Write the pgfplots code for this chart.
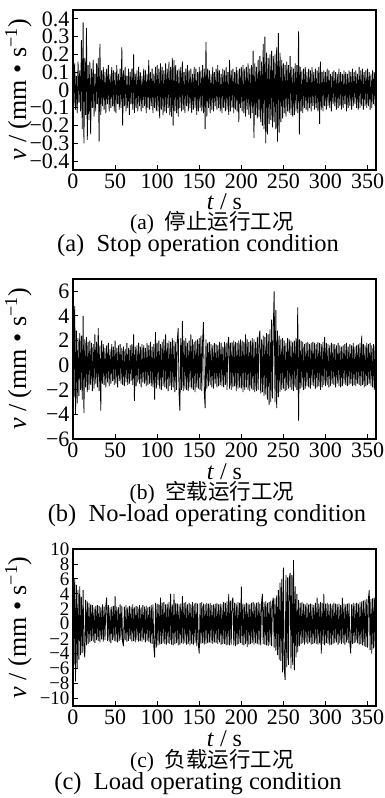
\documentclass[border=0pt]{standalone}
\usepackage{fontspec}
\setmainfont{Liberation Serif}
\newfontfamily\cjk{Noto Sans CJK SC}
\usepackage{pgfplots}
\pgfplotsset{compat=1.18}
\pgfplotsset{
  panel/.style={
    scale only axis, width=303pt, anchor=south west,
    xmin=0, xmax=360, xtick={0,50,...,350},
    tick align=inside, xtick pos=bottom, ytick pos=left,
    major tick length=5pt,
    axis line style={line width=1.2pt},
    every tick/.style={black, line width=0.9pt},
    /pgf/number format/assume math mode=true,
    tick label style={font=\fontsize{22}{22}\selectfont},
    xlabel style={font=\fontsize{24}{24}\selectfont, inner sep=0pt},
    ylabel style={font=\fontsize{26}{26}\selectfont, inner sep=0pt, at={(axis description cs:-0.18,0.5)}, anchor=center},
    xlabel={\textit{t} / s},
    ylabel={\textit{v} / (mm • s\textsuperscript{−1})},
    clip=true,
  },
  sig/.style={black, line width=0.8pt, mark=none, line join=bevel},
}
\begin{document}
\begin{tikzpicture}
\path[use as bounding box] (0pt,0pt) rectangle (384pt,798pt);
% (a)
\begin{axis}[panel, height=160pt, at={(73pt,628pt)},
  ymin=-0.45, ymax=0.45,
  ytick={-0.4,-0.3,-0.2,-0.1,0,0.1,0.2,0.3,0.4},
  yticklabels={−0.4,−0.3,−0.2,−0.1,0,0.1,0.2,0.3,0.4},
  xlabel style={at={(axis description cs:0.5,-0.2)}, anchor=center}]
\addplot[sig] table[x expr=\coordindex, y index=0, header=false, row sep=\\] {
0.12\\ -0.09\\ 0.15\\ -0.11\\ 0.08\\ -0.13\\ 0.16\\ -0.07\\ 0.11\\ -0.12\\
0.28\\ -0.22\\ 0.38\\ -0.30\\ 0.18\\ -0.14\\ 0.35\\ -0.28\\ 0.14\\ -0.17\\
0.16\\ -0.25\\ 0.12\\ -0.10\\ 0.17\\ -0.15\\ 0.09\\ -0.12\\ 0.15\\ -0.08\\
0.18\\ -0.29\\ 0.26\\ -0.14\\ 0.11\\ -0.09\\ 0.13\\ -0.11\\ 0.10\\ -0.13\\
0.12\\ -0.08\\ 0.14\\ -0.12\\ 0.09\\ -0.10\\ 0.13\\ -0.09\\ 0.11\\ -0.12\\
0.10\\ -0.13\\ 0.14\\ -0.08\\ 0.09\\ -0.11\\ 0.12\\ -0.10\\ 0.24\\ -0.20\\
0.11\\ -0.09\\ 0.13\\ -0.12\\ 0.08\\ -0.10\\ 0.12\\ -0.14\\ 0.10\\ -0.08\\
0.12\\ -0.11\\ 0.20\\ -0.13\\ 0.09\\ -0.10\\ 0.11\\ -0.12\\ 0.13\\ -0.09\\
0.10\\ -0.12\\ 0.08\\ -0.10\\ 0.12\\ -0.09\\ 0.11\\ -0.13\\ 0.09\\ -0.10\\
0.17\\ -0.11\\ 0.10\\ -0.09\\ 0.12\\ -0.13\\ 0.09\\ -0.10\\ 0.13\\ -0.12\\
0.14\\ -0.12\\ 0.12\\ -0.16\\ 0.15\\ -0.11\\ 0.13\\ -0.14\\ 0.11\\ -0.12\\
0.15\\ -0.13\\ 0.12\\ -0.10\\ 0.16\\ -0.14\\ 0.13\\ -0.15\\ 0.18\\ -0.20\\
0.17\\ -0.12\\ 0.14\\ -0.13\\ 0.11\\ -0.15\\ 0.12\\ -0.10\\ 0.13\\ -0.12\\
0.16\\ -0.11\\ 0.10\\ -0.13\\ 0.12\\ -0.09\\ 0.14\\ -0.12\\ 0.11\\ -0.10\\
0.12\\ -0.13\\ 0.09\\ -0.11\\ 0.13\\ -0.10\\ 0.12\\ -0.14\\ 0.10\\ -0.12\\
0.13\\ -0.10\\ 0.11\\ -0.12\\ 0.14\\ -0.13\\ 0.12\\ -0.22\\ 0.27\\ -0.15\\
0.12\\ -0.10\\ 0.11\\ -0.13\\ 0.09\\ -0.11\\ 0.13\\ -0.12\\ 0.10\\ -0.09\\
0.12\\ -0.11\\ 0.14\\ -0.10\\ 0.11\\ -0.12\\ 0.09\\ -0.13\\ 0.12\\ -0.10\\
0.11\\ -0.12\\ 0.13\\ -0.11\\ 0.10\\ -0.14\\ 0.17\\ -0.12\\ 0.11\\ -0.10\\
0.12\\ -0.13\\ 0.10\\ -0.11\\ 0.13\\ -0.12\\ 0.11\\ -0.18\\ 0.12\\ -0.10\\
0.13\\ -0.12\\ 0.14\\ -0.13\\ 0.12\\ -0.15\\ 0.13\\ -0.11\\ 0.15\\ -0.14\\
0.12\\ -0.16\\ 0.14\\ -0.13\\ 0.22\\ -0.27\\ 0.15\\ -0.14\\ 0.13\\ -0.16\\
0.17\\ -0.15\\ 0.19\\ -0.18\\ 0.16\\ -0.20\\ 0.26\\ -0.22\\ 0.30\\ -0.30\\
0.21\\ -0.25\\ 0.18\\ -0.19\\ 0.20\\ -0.17\\ 0.22\\ -0.21\\ 0.19\\ -0.18\\
0.20\\ -0.22\\ 0.24\\ -0.29\\ 0.32\\ -0.24\\ 0.21\\ -0.18\\ 0.17\\ -0.16\\
0.15\\ -0.13\\ 0.14\\ -0.15\\ 0.16\\ -0.12\\ 0.14\\ -0.13\\ 0.19\\ -0.14\\
0.13\\ -0.15\\ 0.12\\ -0.14\\ 0.15\\ -0.12\\ 0.14\\ -0.13\\ 0.33\\ -0.25\\
0.13\\ -0.12\\ 0.11\\ -0.13\\ 0.12\\ -0.10\\ 0.13\\ -0.11\\ 0.10\\ -0.12\\
0.12\\ -0.10\\ 0.11\\ -0.12\\ 0.13\\ -0.09\\ 0.10\\ -0.11\\ 0.12\\ -0.10\\
0.11\\ -0.12\\ 0.13\\ -0.19\\ 0.16\\ -0.11\\ 0.10\\ -0.12\\ 0.11\\ -0.09\\
0.10\\ -0.11\\ 0.12\\ -0.09\\ 0.11\\ -0.10\\ 0.09\\ -0.12\\ 0.10\\ -0.08\\
0.11\\ -0.09\\ 0.10\\ -0.11\\ 0.09\\ -0.10\\ 0.12\\ -0.09\\ 0.10\\ -0.11\\
0.09\\ -0.10\\ 0.11\\ -0.08\\ 0.10\\ -0.12\\ 0.09\\ -0.10\\ 0.11\\ -0.09\\
0.10\\ -0.11\\ 0.12\\ -0.09\\ 0.10\\ -0.08\\ 0.11\\ -0.10\\ 0.09\\ -0.11\\
0.13\\ -0.10\\ 0.11\\ -0.09\\ 0.12\\ -0.11\\ 0.10\\ -0.09\\ 0.11\\ -0.10\\
0.12\\ -0.09\\ 0.10\\ -0.11\\ 0.09\\ -0.10\\ 0.11\\ -0.08\\ 0.10\\ -0.09\\ 0.08\\
};
\end{axis}
% (b)
\begin{axis}[panel, height=160pt, at={(73pt,359pt)},
  ymin=-6, ymax=7,
  ytick={-6,-4,-2,0,2,4,6},
  yticklabels={−6,−4,−2,0,2,4,6},
  xlabel style={at={(axis description cs:0.5,-0.204)}, anchor=center}]
\addplot[sig] table[x expr=\coordindex, y index=0, header=false, row sep=\\] {
3.2\\ -2.6\\ 4.8\\ -4.0\\ 2.8\\ -3.1\\ 2.2\\ -2.5\\ 2.6\\ -2.0\\
2.4\\ -2.8\\ 4.0\\ -3.9\\ 2.1\\ -1.8\\ 2.3\\ -2.2\\ 1.9\\ -2.0\\
2.0\\ -1.6\\ 1.8\\ -2.1\\ 1.7\\ -1.9\\ 2.5\\ -1.5\\ 1.9\\ -1.8\\
3.0\\ -2.1\\ 1.6\\ -3.7\\ 2.0\\ -1.5\\ 1.7\\ -1.6\\ 1.4\\ -1.8\\
1.6\\ -1.4\\ 1.8\\ -1.7\\ 1.3\\ -1.5\\ 1.7\\ -1.3\\ 1.5\\ -1.6\\
2.0\\ -1.5\\ 1.4\\ -1.8\\ 1.6\\ -1.3\\ 1.7\\ -1.5\\ 1.4\\ -1.6\\
1.5\\ -1.7\\ 1.3\\ -1.4\\ 1.8\\ -1.6\\ 1.4\\ -1.5\\ 1.6\\ -1.3\\
1.7\\ -1.6\\ 2.5\\ -2.9\\ 1.5\\ -1.7\\ 1.6\\ -1.4\\ 1.8\\ -1.5\\
1.5\\ -1.8\\ 1.7\\ -1.4\\ 1.6\\ -1.5\\ 1.4\\ -1.7\\ 1.8\\ -1.6\\
1.6\\ -1.5\\ 1.9\\ -1.7\\ 1.5\\ -1.8\\ 1.7\\ -2.8\\ 2.7\\ -1.9\\
1.8\\ -1.6\\ 2.0\\ -1.9\\ 1.7\\ -2.0\\ 1.9\\ -1.7\\ 2.1\\ -1.8\\
2.5\\ -1.9\\ 1.8\\ -2.1\\ 2.0\\ -1.7\\ 1.9\\ -2.0\\ 2.2\\ -1.8\\
2.0\\ -2.2\\ 1.9\\ -2.0\\ 2.1\\ 3.0\\ -2.3\\ -3.7\\ 2.2\\ -2.0\\
3.6\\ -2.1\\ 2.0\\ -1.9\\ 2.2\\ -2.0\\ 1.8\\ -2.1\\ 2.0\\ -1.8\\
2.5\\ -1.9\\ 2.1\\ -2.0\\ 1.9\\ -2.2\\ 2.0\\ -1.8\\ 2.1\\ -1.9\\
2.2\\ -2.0\\ 2.4\\ -2.1\\ 2.0\\ 3.5\\ -2.2\\ -3.5\\ 2.1\\ -1.9\\
1.8\\ -1.7\\ 1.9\\ -1.6\\ 1.7\\ -1.8\\ 1.6\\ -1.9\\ 1.8\\ -1.5\\
1.7\\ -1.8\\ 1.6\\ -1.7\\ 1.9\\ -1.6\\ 1.8\\ -1.7\\ 1.5\\ -1.8\\
1.9\\ -1.6\\ 1.8\\ -2.0\\ 1.7\\ 2.3\\ -1.9\\ 1.8\\ -2.0\\ 1.9\\
-1.8\\ 2.0\\ -1.7\\ 1.9\\ -2.1\\ 1.8\\ -1.9\\ 2.0\\ -1.8\\ 2.1\\
-1.9\\ 2.0\\ -2.2\\ 1.9\\ -2.0\\ 2.5\\ -1.8\\ 2.1\\ -2.0\\ 1.9\\
-2.1\\ 2.0\\ -1.9\\ 2.2\\ -2.0\\ 2.1\\ -2.2\\ 1.9\\ -2.1\\ 2.3\\
-2.0\\ 2.2\\ 2.8\\ -2.3\\ 2.1\\ -2.2\\ 2.4\\ -2.5\\ 2.3\\ -2.4\\
2.6\\ -2.8\\ 2.5\\ -3.2\\ 2.9\\ -3.0\\ 3.7\\ -2.7\\ 3.1\\ 6.0\\
-3.0\\ 4.5\\ -3.5\\ 2.8\\ -2.6\\ 2.4\\ -2.2\\ 2.1\\ -2.0\\ 2.2\\
-1.9\\ 2.0\\ -2.1\\ 1.8\\ -2.0\\ 2.2\\ -1.9\\ 2.1\\ -1.8\\ 2.0\\
-2.0\\ 1.9\\ -2.1\\ 2.0\\ -1.8\\ 2.2\\ -2.0\\ 4.7\\ -4.5\\ 2.1\\
-1.9\\ 2.0\\ -1.8\\ 1.9\\ -2.0\\ 1.7\\ -1.9\\ 1.8\\ -1.7\\ 1.9\\
-1.8\\ 1.7\\ -1.9\\ 1.8\\ -1.6\\ 1.9\\ -1.7\\ 1.8\\ -1.9\\ 1.7\\
-1.8\\ 1.9\\ -1.7\\ 1.8\\ -2.0\\ 1.7\\ -1.8\\ 1.9\\ -1.6\\ 2.3\\
-1.7\\ 1.8\\ -1.6\\ 1.7\\ -1.8\\ 1.6\\ -1.7\\ 1.8\\ -1.5\\ 1.7\\
-1.6\\ 1.7\\ -1.8\\ 1.6\\ -1.5\\ 1.8\\ -1.7\\ 1.6\\ -1.8\\ 1.5\\
-1.7\\ 1.6\\ -1.5\\ 1.7\\ -1.6\\ 1.8\\ -1.7\\ 1.5\\ -1.6\\ 1.7\\
-1.5\\ 1.6\\ -1.7\\ 1.8\\ -1.6\\ 1.5\\ -1.7\\ 1.6\\ -1.5\\ 1.7\\
-1.6\\ 1.8\\ -1.7\\ 2.4\\ -1.6\\ 1.7\\ -1.8\\ 1.6\\ -1.7\\ 1.8\\
-1.6\\ 1.7\\ -1.5\\ 1.8\\ -1.7\\ 1.6\\ -1.8\\ 1.7\\ -2.0\\ 1.6\\ -1.5\\
};
\end{axis}
% (c)
\begin{axis}[panel, height=157pt, at={(73pt,92pt)},
  ymin=-11, ymax=10,
  ytick={-10,-8,-6,-4,-2,0,2,4,6,8,10},
  yticklabels={−10,−8,−6,−4,−2,0,2,4,6,8,10},
  yticklabel style={font=\fontsize{19}{19}\selectfont, inner ysep=0pt},
  xlabel style={at={(axis description cs:0.5,-0.21)}, anchor=center}]
\addplot[sig] table[x expr=\coordindex, y index=0, header=false, row sep=\\] {
4.2\\ -5.5\\ 6.0\\ -7.7\\ 5.2\\ -6.0\\ 4.5\\ -4.8\\ 5.0\\ -4.2\\
3.6\\ -3.9\\ 4.5\\ -3.4\\ -4.5\\ 3.2\\ -2.9\\ 3.0\\ -2.7\\ 2.8\\
-2.5\\ 2.6\\ -2.3\\ 2.5\\ -2.4\\ 2.2\\ -2.6\\ 2.4\\ -2.2\\ 2.5\\
-2.3\\ 2.4\\ -2.5\\ 2.2\\ -2.1\\ 2.6\\ -2.4\\ 2.3\\ -2.2\\ 2.4\\
3.5\\ -2.3\\ 2.5\\ -2.4\\ 2.2\\ -2.6\\ 2.3\\ -2.2\\ 2.4\\ -2.3\\
3.7\\ -2.4\\ 2.3\\ -2.5\\ 2.2\\ -2.3\\ 2.6\\ -2.2\\ 2.4\\ -2.5\\
-3.0\\ 2.3\\ -2.2\\ 2.5\\ -2.4\\ 2.2\\ -2.3\\ 2.4\\ -2.1\\ 2.3\\
-2.4\\ 2.6\\ -2.3\\ 2.2\\ -2.5\\ 2.4\\ -2.2\\ 2.3\\ -2.4\\ 2.5\\
-2.3\\ 2.2\\ -2.4\\ 2.5\\ -2.2\\ 2.3\\ -2.5\\ 2.4\\ -2.3\\ 2.2\\
-2.4\\ 2.3\\ -2.6\\ 2.5\\ -2.7\\ 2.6\\ -3.0\\ -4.5\\ 2.8\\ -3.2\\
2.7\\ -2.9\\ 2.6\\ -2.8\\ 3.5\\ -2.7\\ 2.8\\ -2.6\\ 2.9\\ -2.7\\
2.6\\ -2.8\\ 2.7\\ -2.6\\ 2.9\\ -2.7\\ 4.0\\ -2.8\\ 2.6\\ -2.9\\
4.0\\ -2.7\\ 2.8\\ -2.6\\ 2.7\\ -2.9\\ 2.6\\ -2.8\\ 2.7\\ -2.6\\
3.7\\ -2.7\\ 2.8\\ -2.6\\ 2.9\\ -2.8\\ 2.6\\ -2.7\\ 2.8\\ -2.9\\
2.6\\ -2.7\\ 2.9\\ -2.8\\ 2.7\\ -2.6\\ 2.8\\ -3.0\\ 2.7\\ -2.9\\
-4.0\\ 2.8\\ -2.7\\ 2.9\\ -2.6\\ 2.7\\ -2.8\\ 2.6\\ -2.7\\ 2.8\\
-2.6\\ 2.7\\ -2.5\\ 2.8\\ -2.6\\ 2.5\\ -2.7\\ 2.6\\ -2.5\\ 2.7\\
-2.6\\ 2.8\\ -2.7\\ 2.6\\ -2.5\\ 2.7\\ -2.8\\ 2.6\\ -2.7\\ 2.9\\
-2.7\\ 2.8\\ -2.9\\ 3.0\\ -2.8\\ 4.0\\ -2.9\\ 3.1\\ -2.8\\ 3.0\\
3.5\\ -2.9\\ 2.8\\ -3.0\\ 2.7\\ -2.8\\ 2.9\\ -2.7\\ 2.8\\ -2.6\\
5.0\\ -2.8\\ 2.7\\ -2.9\\ 2.6\\ -2.7\\ 2.8\\ -3.1\\ 2.7\\ -2.8\\
2.6\\ -2.7\\ 2.8\\ -2.6\\ 2.9\\ -2.8\\ 2.7\\ -2.6\\ 2.8\\ -2.7\\
2.9\\ -2.8\\ 2.7\\ -2.9\\ 2.8\\ 4.0\\ -2.7\\ 2.9\\ -2.8\\ 3.0\\
-2.9\\ 2.8\\ -3.0\\ 2.9\\ -2.8\\ 3.1\\ -3.0\\ 2.9\\ 3.5\\ -3.2\\
3.4\\ -3.6\\ 3.8\\ -4.2\\ 4.5\\ -4.8\\ 5.5\\ -5.0\\ 6.0\\ -6.5\\
7.5\\ -6.0\\ -7.5\\ 6.5\\ -5.8\\ 6.2\\ -5.5\\ 6.0\\ 6.8\\ -6.0\\
6.5\\ -5.5\\ 8.5\\ -6.2\\ 5.0\\ -4.5\\ 4.0\\ -3.8\\ 3.2\\ -3.0\\
2.8\\ -2.7\\ 2.9\\ -2.6\\ 2.7\\ -2.8\\ 2.6\\ -2.5\\ 2.8\\ -2.7\\
2.6\\ -2.5\\ 2.7\\ -2.8\\ 2.6\\ -2.7\\ 2.5\\ -2.6\\ 2.8\\ -2.7\\
3.5\\ -2.8\\ 2.7\\ -2.6\\ 2.9\\ -4.0\\ 2.8\\ -2.7\\ 4.0\\ -2.9\\
2.7\\ -2.6\\ 2.8\\ -2.7\\ 2.6\\ -2.9\\ 2.7\\ -2.8\\ 2.6\\ -2.7\\
2.8\\ -2.6\\ 2.7\\ -2.5\\ 2.6\\ -2.8\\ 2.7\\ -2.6\\ 2.5\\ -2.7\\
3.5\\ -2.6\\ 2.7\\ -2.8\\ 2.6\\ -2.5\\ 2.7\\ -2.6\\ 2.8\\ -2.7\\
-4.0\\ 2.6\\ -2.7\\ 2.8\\ -2.6\\ 2.7\\ -2.5\\ 2.8\\ -2.6\\ 2.7\\
-2.8\\ 2.9\\ -2.7\\ 3.0\\ -2.9\\ 3.1\\ -3.0\\ 3.2\\ -3.1\\ 3.3\\
-3.2\\ 3.4\\ 4.5\\ -3.5\\ 3.3\\ -4.0\\ 3.4\\ -3.3\\ 3.5\\ -3.2\\ 3.0\\
};
\end{axis}
% captions
\begin{scope}[every node/.style={inner sep=0pt, anchor=center}]
\node[font=\fontsize{21.5}{21.5}\selectfont] at (212pt,575pt) {(a)\enspace{\cjk\fontsize{21.5}{21.5}\selectfont 停止运行工况}};
\node[font=\fontsize{24.5}{24.5}\selectfont] at (198pt,552.5pt) {(a)\enspace Stop operation condition};
\node[font=\fontsize{21.5}{21.5}\selectfont] at (212pt,305pt) {(b)\enspace{\cjk\fontsize{21.5}{21.5}\selectfont 空载运行工况}};
\node[font=\fontsize{24.5}{24.5}\selectfont] at (207pt,282.5pt) {(b)\enspace No-load operating condition};
\node[font=\fontsize{21.5}{21.5}\selectfont] at (212pt,37pt) {(c)\enspace{\cjk\fontsize{21.5}{21.5}\selectfont 负载运行工况}};
\node[font=\fontsize{24.5}{24.5}\selectfont] at (198pt,14pt) {(c)\enspace Load operating condition};
\end{scope}
\end{tikzpicture}
\end{document}
